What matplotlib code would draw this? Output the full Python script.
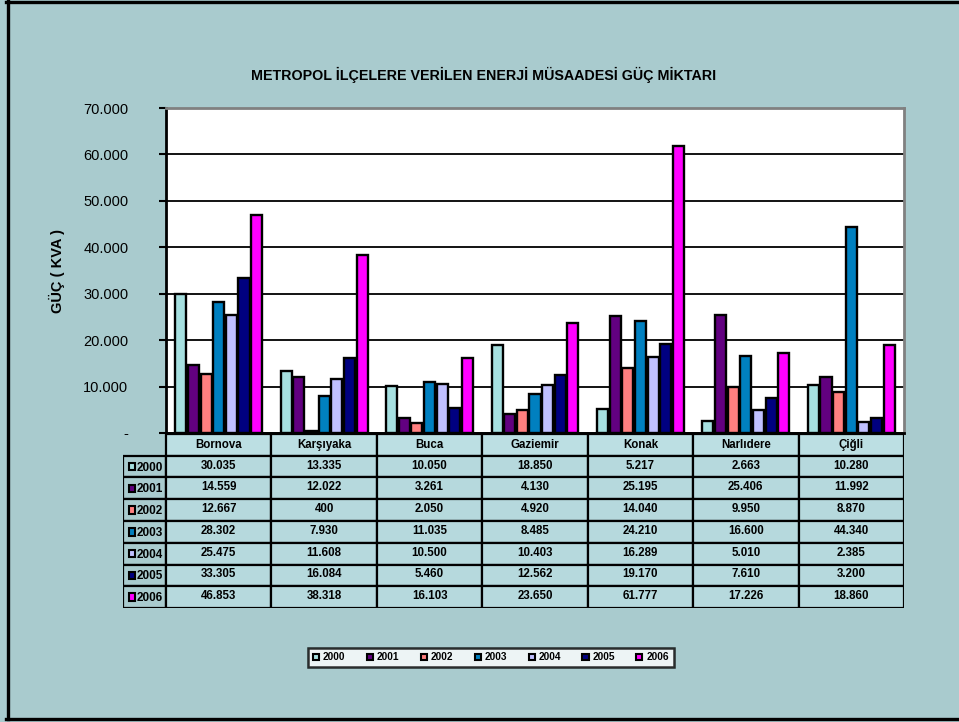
import matplotlib
matplotlib.use("Agg")
import matplotlib.pyplot as plt
from matplotlib.patches import Rectangle, Patch
from matplotlib.ticker import FuncFormatter, MultipleLocator
from matplotlib.lines import Line2D

plt.rcParams['font.family'] = ['Liberation Sans', 'DejaVu Sans']

title = "METROPOL İLÇELERE VERİLEN ENERJİ MÜSAADESİ GÜÇ MİKTARI"
ylabel = "GÜÇ ( KVA )"
districts = ["Bornova", "Karşıyaka", "Buca", "Gaziemir", "Konak", "Narlıdere", "Çiğli"]
years = ["2000", "2001", "2002", "2003", "2004", "2005", "2006"]
v2000 = [30035, 13335, 10050, 18850, 5217, 2663, 10280]
v2001 = [14559, 12022, 3261, 4130, 25195, 25406, 11992]
v2002 = [12667, 400, 2050, 4920, 14040, 9950, 8870]
v2003 = [28302, 7930, 11035, 8485, 24210, 16600, 44340]
v2004 = [25475, 11608, 10500, 10403, 16289, 5010, 2385]
v2005 = [33305, 16084, 5460, 12562, 19170, 7610, 3200]
v2006 = [46853, 38318, 16103, 23650, 61777, 17226, 18860]
series = [v2000, v2001, v2002, v2003, v2004, v2005, v2006]
colors = ["#A6E0E0", "#620080", "#FF8080", "#0080C0", "#C0C0FF", "#000080", "#FF00FF"]

W, H = 959, 722
BG = "#A9CBCE"
CELL = "#B6D9DD"

fig = plt.figure(figsize=(W / 100, H / 100), dpi=100, facecolor=BG)

def fx(px):
    return px / W

def fy(py):
    return 1 - py / H

# outer frame (left, top, bottom)
fig.add_artist(Line2D([fx(7.5), fx(7.5)], [fy(1), fy(719)], color="black", lw=2.4, transform=fig.transFigure))
fig.add_artist(Line2D([fx(6), fx(959)], [fy(1.5), fy(1.5)], color="black", lw=2.4, transform=fig.transFigure))
fig.add_artist(Line2D([fx(6), fx(959)], [fy(718.5), fy(718.5)], color="black", lw=2.4, transform=fig.transFigure))

L, R, T, B = 166, 904, 108, 433
ax = fig.add_axes([fx(L), fy(B), fx(R - L), (B - T) / H])
ax.set_facecolor("white")
n = len(districts)
slot = 0.12
bw = 0.105
for j, (vals, c) in enumerate(zip(series, colors)):
    xs = [i + (j - 3) * slot for i in range(n)]
    ax.bar(xs, vals, width=bw, color=c, edgecolor="black", linewidth=1.7, zorder=3)

ax.set_xlim(-0.5, n - 0.5)
ax.set_ylim(0, 70000)
ax.yaxis.set_major_locator(MultipleLocator(10000))
ax.yaxis.set_major_formatter(FuncFormatter(lambda v, p: "-" if v == 0 else f"{v:,.0f}".replace(",", ".")))
ax.grid(axis="y", color="black", lw=1.3, zorder=1)
ax.set_xticks([])
ax.tick_params(axis="y", length=5, width=1.5, labelsize=10.5, pad=22, colors="black")
for lbl in ax.get_yticklabels():
    lbl.set_horizontalalignment("right")
ax.spines["left"].set_linewidth(2)
ax.spines["bottom"].set_linewidth(2)
ax.spines["top"].set_color("#808080")
ax.spines["right"].set_color("#808080")
ax.spines["top"].set_linewidth(2)
ax.spines["right"].set_linewidth(2)
ax.set_ylabel(ylabel, fontsize=10.5, fontweight="bold", labelpad=13)

fig.text(fx(484), fy(75), title, ha="center", va="center", fontsize=10.3, fontweight="bold")

# data table
TL, TT, TB = 123, 434, 608
nrows = len(years) + 1
colw = (R - L) / n
tax = fig.add_axes([fx(TL), fy(TB), fx(R - TL), (TB - TT) / H])
tax.set_xlim(-0.5 - (L - TL) / colw, n - 0.5)
tax.set_ylim(0, nrows)
tax.axis("off")
x0 = -0.5 - (L - TL) / colw
lw = 1.6
# header cells
for i, d in enumerate(districts):
    tax.add_patch(Rectangle((i - 0.5, nrows - 1), 1, 1, facecolor="#BCDFE3", edgecolor="black", lw=lw))
    tax.text(i, nrows - 0.5, d, ha="center", va="center", fontsize=8.3, fontweight="bold")
for r, (y, vals, c) in enumerate(zip(years, series, colors)):
    yb = nrows - 2 - r
    tax.add_patch(Rectangle((x0, yb), -0.5 - x0, 1, facecolor=BG, edgecolor="black", lw=lw))
    tax.add_patch(Rectangle((x0 + 0.06, yb + 0.33), 0.05, 0.34, facecolor=c, edgecolor="black", lw=1.5))
    tax.text(-0.53, yb + 0.45, y, ha="right", va="center", fontsize=8.5, fontweight="bold")
    for i, v in enumerate(vals):
        tax.add_patch(Rectangle((i - 0.5, yb), 1, 1, facecolor=CELL, edgecolor="black", lw=lw))
        tax.text(i, yb + 0.55, f"{v:,}".replace(",", "."), ha="center", va="center", fontsize=8.3, fontweight="bold")

handles = [Patch(facecolor=c, edgecolor="black", lw=1.5) for c in colors]
leg = fig.legend(handles, years, loc="center", bbox_to_anchor=(fx(491), fy(657.5)), ncol=7,
                 frameon=True, fancybox=False, edgecolor="black", facecolor="white",
                 handlelength=0.6, handleheight=0.6, handletextpad=0.4, columnspacing=2.1,
                 borderpad=0.45, prop={"size": 7.3, "weight": "bold"})
leg.get_frame().set_linewidth(1.8)

fig.savefig("out.png", dpi=100, facecolor=BG)
